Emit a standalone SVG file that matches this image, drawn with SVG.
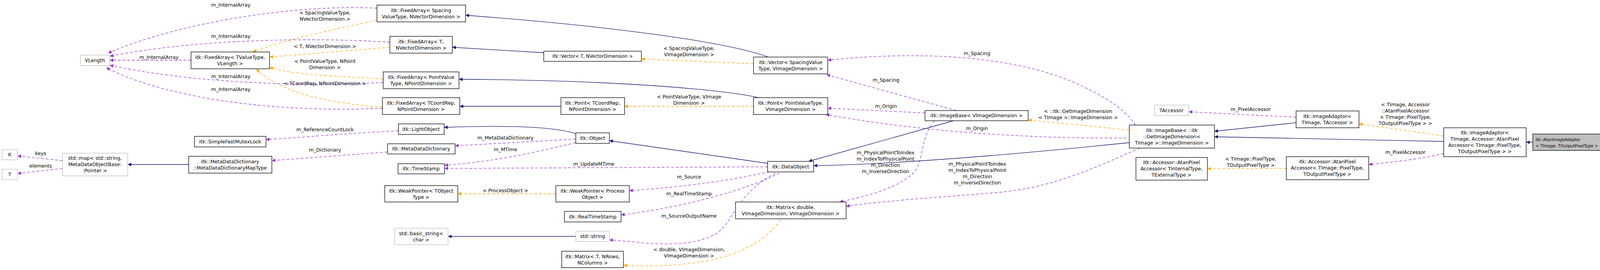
<svg xmlns="http://www.w3.org/2000/svg" width="4179" height="691" viewBox="0 0 4179 691">
<style>
text{font-family:"DejaVu Sans","Liberation Sans",sans-serif;font-size:12.5px;fill:#000;text-anchor:middle}
.n rect{fill:#fff;stroke:#000;stroke-width:1.3}
.g rect{fill:#fff;stroke:#bfbfbf;stroke-width:1.3}
.main rect{fill:#bfbfbf;stroke:#000;stroke-width:1.3}
.main text{text-anchor:start;font-size:11px}
.sm text{font-size:11.5px}
.m{fill:none;stroke:#9a32cd;stroke-width:1.3;stroke-dasharray:7,5;marker-end:url(#ap)}
.o{fill:none;stroke:#ffa500;stroke-width:1.3;stroke-dasharray:7,5;marker-end:url(#ao)}
.i{fill:none;stroke:#191970;stroke-width:1.3;marker-end:url(#an)}
</style>
<defs>
<marker id="ap" viewBox="0 0 10 10" refX="10" refY="5" markerWidth="13" markerHeight="9" markerUnits="userSpaceOnUse" orient="auto"><path d="M0,0L10,5L0,10z" fill="#9a32cd"/></marker>
<marker id="ao" viewBox="0 0 10 10" refX="10" refY="5" markerWidth="13" markerHeight="9" markerUnits="userSpaceOnUse" orient="auto"><path d="M0,0L10,5L0,10z" fill="#ffa500"/></marker>
<marker id="an" viewBox="0 0 10 10" refX="10" refY="5" markerWidth="13" markerHeight="9" markerUnits="userSpaceOnUse" orient="auto"><path d="M0,0L10,5L0,10z" fill="#191970"/></marker>
</defs>
<rect width="4179" height="691" fill="#fff"/>
<g id="edges">
<path class="m" d="M965,21 C750,10 450,60 277,136"/>
<path class="m" d="M998,108 C800,95 500,100 281,144"/>
<path class="m" d="M489,154 L281,154"/>
<path class="m" d="M981,211 C800,222 500,215 281,167"/>
<path class="m" d="M979,277 C700,290 420,250 272,173"/>
<path class="m" d="M1020,335 C900,340 800,350 681,357"/>
<path class="m" d="M992,389 L696,411"/>
<path class="m" d="M160,411 L45,399"/>
<path class="m" d="M160,431 L45,444"/>
<path class="m" d="M1474,356 L1165,373"/>
<path class="m" d="M1474,365 C1350,395 1250,415 1138,423"/>
<path class="m" d="M1965,427 C1700,428 1400,430 1138,431"/>
<path class="m" d="M1970,440 C1850,465 1750,478 1611,488"/>
<path class="m" d="M1995,443 C1900,490 1750,530 1590,550"/>
<path class="m" d="M1985,443 C1880,500 1880,570 1830,600 C1750,640 1650,620 1560,614"/>
<path class="m" d="M2448,283 L2116,191"/>
<path class="m" d="M2368,289 L2119,277"/>
<path class="m" d="M2907,320 C2870,270 2830,250 2770,220 C2600,140 2350,130 2119,154"/>
<path class="m" d="M2883,353 C2700,355 2400,345 2114,293"/>
<path class="m" d="M2392,309 C2350,360 2370,420 2330,450 C2280,490 2200,505 2149,517"/>
<path class="m" d="M2918,379 C2800,430 2700,480 2550,493 C2400,505 2250,515 2166,528"/>
<path class="m" d="M3318,300 L3043,286"/>
<path class="m" d="M3696,393 C3620,410 3560,415 3504,421"/>
<path class="o" d="M965,52 C850,75 720,105 647,133"/>
<path class="o" d="M998,121 L690,146"/>
<path class="o" d="M981,202 C850,195 740,190 690,172"/>
<path class="o" d="M979,274 C850,265 720,240 656,177"/>
<path class="o" d="M1423,496 L1172,496"/>
<path class="o" d="M1929,163 L1642,151"/>
<path class="o" d="M1929,272 L1599,272"/>
<path class="o" d="M1998,563 C1950,630 1850,690 1596,679"/>
<path class="o" d="M2891,333 L2632,307"/>
<path class="o" d="M3293,431 L3091,432"/>
<path class="o" d="M3696,348 L3479,317"/>
<path class="i" d="M483,421 L327,421"/>
<path class="i" d="M1967,146 C1869,110 1600,70 1192,39"/>
<path class="i" d="M1392,135 L1158,121"/>
<path class="i" d="M1942,250 C1869,232 1600,205 1175,203"/>
<path class="i" d="M1436,272 L1177,272"/>
<path class="i" d="M1474,342 C1420,325 1300,320 1137,326"/>
<path class="i" d="M1965,418 L1560,360"/>
<path class="i" d="M2441,309 L2070,413"/>
<path class="i" d="M2891,365 C2600,395 2300,420 2083,424"/>
<path class="i" d="M3318,314 L3109,336"/>
<path class="i" d="M3696,362 L3109,350"/>
<path class="i" d="M3924,364 L3907,364"/>
<path class="i" d="M1474,605 L1147,605"/>
</g>
<g id="labels">
<text x="591" y="17">m_InternalArray</text>
<text x="591" y="97">m_InternalArray</text>
<text x="407" y="151">m_InternalArray</text>
<text x="591" y="200">m_InternalArray</text>
<text x="591" y="233">m_InternalArray</text>
<text x="832" y="37">&lt; SpacingValueType,</text>
<text x="832" y="53">NVectorDimension &gt;</text>
<text x="832" y="123">&lt; T, NVectorDimension &gt;</text>
<text x="832" y="161">&lt; PointValueType, NPoint</text>
<text x="832" y="177">Dimension &gt;</text>
<text x="832" y="218">&lt; TCoordRep, NPointDimension &gt;</text>
<text x="832" y="336">m_ReferenceCountLock</text>
<text x="832" y="388">m_Dictionary</text>
<text x="104" y="397">keys</text>
<text x="104" y="429">elements</text>
<text x="1294" y="357">m_MetaDataDictionary</text>
<text x="1294" y="387">m_MTime</text>
<text x="1294" y="492">&lt; ProcessObject &gt;</text>
<text x="1520" y="424">m_UpdateMTime</text>
<text x="1764" y="457">m_Source</text>
<text x="1764" y="500">m_RealTimeStamp</text>
<text x="1764" y="557">m_SourceOutputName</text>
<text x="1764" y="643">&lt; double, VImageDimension,</text>
<text x="1764" y="659">VImageDimension &gt;</text>
<text x="1764" y="128">&lt; SpacingValueType,</text>
<text x="1764" y="144">VImageDimension &gt;</text>
<text x="1764" y="252">&lt; PointValueType, VImage</text>
<text x="1764" y="268">Dimension &gt;</text>
<text x="2501" y="141">m_Spacing</text>
<text x="2268" y="209">m_Spacing</text>
<text x="2268" y="276">m_Origin</text>
<text x="2501" y="333">m_Origin</text>
<text x="2760" y="289">&lt; ::itk::GetImageDimension</text>
<text x="2760" y="305">&lt; TImage &gt;::ImageDimension &gt;</text>
<text x="2267" y="395">m_PhysicalPointToIndex</text>
<text x="2267" y="411">m_IndexToPhysicalPoint</text>
<text x="2267" y="427">m_Direction</text>
<text x="2267" y="443">m_InverseDirection</text>
<text x="2502" y="424">m_PhysicalPointToIndex</text>
<text x="2502" y="440">m_IndexToPhysicalPoint</text>
<text x="2502" y="456">m_Direction</text>
<text x="2502" y="472">m_InverseDirection</text>
<text x="3202" y="284">m_PixelAccessor</text>
<text x="3202" y="411">&lt; TImage::PixelType,</text>
<text x="3202" y="427">TOutputPixelType &gt;</text>
<text x="3598" y="272">&lt; TImage, Accessor</text>
<text x="3598" y="288">::AtanPixelAccessor</text>
<text x="3598" y="304">&lt; TImage::PixelType,</text>
<text x="3598" y="320">TOutputPixelType &gt; &gt;</text>
<text x="3598" y="394">m_PixelAccessor</text>
</g>
<g id="VLength" class="g"><rect x="206" y="141" width="75" height="27"/><text x="243" y="159">VLength</text></g>
<g id="FA_TValueType" class="n"><rect x="489" y="133" width="201" height="43"/><text x="589" y="151">itk::FixedArray&lt; TValueType,</text><text x="589" y="167">VLength &gt;</text></g>
<g id="K" class="g"><rect x="5" y="383" width="40" height="26"/><text x="25" y="400">K</text></g>
<g id="T" class="g"><rect x="5" y="433" width="40" height="27"/><text x="25" y="451">T</text></g>
<g id="stdmap" class="g"><rect x="160" y="392" width="167" height="58"/><text x="243" y="409">std::map&lt; std::string,</text><text x="243" y="425">MetaDataObjectBase:</text><text x="243" y="441">:Pointer &gt;</text></g>
<g id="SimpleFastMutexLock" class="n"><rect x="498" y="349" width="183" height="27"/><text x="589" y="367">itk::SimpleFastMutexLock</text></g>
<g id="MDDMapType" class="n"><rect x="483" y="400" width="213" height="43"/><text x="589" y="418">itk::MetaDataDictionary</text><text x="589" y="434">::MetaDataDictionaryMapType</text></g>
<g id="FA_Spacing" class="n"><rect x="965" y="13" width="227" height="43"/><text x="1078" y="31">itk::FixedArray&lt; Spacing</text><text x="1078" y="47">ValueType, NVectorDimension &gt;</text></g>
<g id="FA_T" class="n"><rect x="998" y="93" width="160" height="43"/><text x="1078" y="111">itk::FixedArray&lt; T,</text><text x="1078" y="127">NVectorDimension &gt;</text></g>
<g id="FA_PointValue" class="n"><rect x="981" y="184" width="194" height="43"/><text x="1078" y="202">itk::FixedArray&lt; PointValue</text><text x="1078" y="218">Type, NPointDimension &gt;</text></g>
<g id="FA_TCoordRep" class="n"><rect x="979" y="250" width="198" height="43"/><text x="1078" y="268">itk::FixedArray&lt; TCoordRep,</text><text x="1078" y="284">NPointDimension &gt;</text></g>
<g id="LightObject" class="n"><rect x="1020" y="317" width="117" height="27"/><text x="1078" y="335">itk::LightObject</text></g>
<g id="MetaDataDictionary" class="n"><rect x="992" y="368" width="173" height="26"/><text x="1078" y="385">itk::MetaDataDictionary</text></g>
<g id="TimeStamp" class="n"><rect x="1019" y="419" width="119" height="26"/><text x="1078" y="436">itk::TimeStamp</text></g>
<g id="WeakPointerT" class="n"><rect x="985" y="475" width="187" height="42"/><text x="1078" y="493">itk::WeakPointer&lt; TObject</text><text x="1078" y="509">Type &gt;</text></g>
<g id="basic_string" class="g"><rect x="1010" y="584" width="137" height="42"/><text x="1078" y="602">std::basic_string&lt;</text><text x="1078" y="618">char &gt;</text></g>
<g id="VectorT" class="n sm"><rect x="1392" y="131" width="250" height="26"/><text x="1517" y="148">itk::Vector&lt; T, NVectorDimension &gt;</text></g>
<g id="PointTCoordRep" class="n"><rect x="1436" y="250" width="163" height="43"/><text x="1517" y="268">itk::Point&lt; TCoordRep,</text><text x="1517" y="284">NPointDimension &gt;</text></g>
<g id="Object" class="n"><rect x="1474" y="340" width="86" height="27"/><text x="1517" y="358">itk::Object</text></g>
<g id="WeakPointerProcess" class="n"><rect x="1423" y="475" width="188" height="42"/><text x="1517" y="493">itk::WeakPointer&lt; Process</text><text x="1517" y="509">Object &gt;</text></g>
<g id="RealTimeStamp" class="n"><rect x="1445" y="541" width="145" height="27"/><text x="1517" y="559">itk::RealTimeStamp</text></g>
<g id="stdstring" class="g"><rect x="1474" y="592" width="86" height="26"/><text x="1517" y="609">std::string</text></g>
<g id="MatrixT" class="n"><rect x="1438" y="643" width="158" height="42"/><text x="1517" y="661">itk::Matrix&lt; T, NRows,</text><text x="1517" y="677">NColumns &gt;</text></g>
<g id="VectorSpacing" class="n"><rect x="1929" y="146" width="190" height="43"/><text x="2024" y="164">itk::Vector&lt; SpacingValue</text><text x="2024" y="180">Type, VImageDimension &gt;</text></g>
<g id="PointPV" class="n"><rect x="1929" y="250" width="190" height="43"/><text x="2024" y="268">itk::Point&lt; PointValueType,</text><text x="2024" y="284">VImageDimension &gt;</text></g>
<g id="DataObject" class="n"><rect x="1965" y="413" width="118" height="27"/><text x="2024" y="431">itk::DataObject</text></g>
<g id="MatrixDouble" class="n"><rect x="1883" y="517" width="283" height="43"/><text x="2024" y="535">itk::Matrix&lt; double,</text><text x="2024" y="551">VImageDimension, VImageDimension &gt;</text></g>
<g id="ImageBaseV" class="n"><rect x="2368" y="283" width="264" height="26"/><text x="2500" y="300">itk::ImageBase&lt; VImageDimension &gt;</text></g>
<g id="TAccessor" class="g"><rect x="2956" y="269" width="87" height="27"/><text x="2999" y="287">TAccessor</text></g>
<g id="ImageBaseItk" class="n"><rect x="2891" y="320" width="218" height="59"/><text x="3000" y="338">itk::ImageBase&lt; ::itk</text><text x="3000" y="354">::GetImageDimension&lt;</text><text x="3000" y="370">TImage &gt;::ImageDimension &gt;</text></g>
<g id="AtanPixel1" class="n"><rect x="2908" y="403" width="183" height="58"/><text x="2999" y="420">itk::Accessor::AtanPixel</text><text x="2999" y="436">Accessor&lt; TInternalType,</text><text x="2999" y="452">TExternalType &gt;</text></g>
<g id="ImageAdaptor1" class="n"><rect x="3318" y="284" width="161" height="43"/><text x="3398" y="302">itk::ImageAdaptor&lt;</text><text x="3398" y="318">TImage, TAccessor &gt;</text></g>
<g id="AtanPixel2" class="n"><rect x="3293" y="401" width="211" height="59"/><text x="3398" y="418">itk::Accessor::AtanPixel</text><text x="3398" y="434">Accessor&lt; TImage::PixelType,</text><text x="3398" y="450">TOutputPixelType &gt;</text></g>
<g id="ImageAdaptor2" class="n"><rect x="3696" y="327" width="211" height="74"/><text x="3801" y="344">itk::ImageAdaptor&lt;</text><text x="3801" y="360">TImage, Accessor::AtanPixel</text><text x="3801" y="376">Accessor&lt; TImage::PixelType,</text><text x="3801" y="392">TOutputPixelType &gt; &gt;</text></g>
<g id="AtanImageAdaptor" class="main"><rect x="3924" y="343" width="176" height="42"/><text x="3931" y="361" textLength="115" lengthAdjust="spacingAndGlyphs">itk::AtanImageAdaptor</text><text x="3931" y="377" textLength="160" lengthAdjust="spacingAndGlyphs">&lt; TImage, TOutputPixelType &gt;</text></g>
</svg>
